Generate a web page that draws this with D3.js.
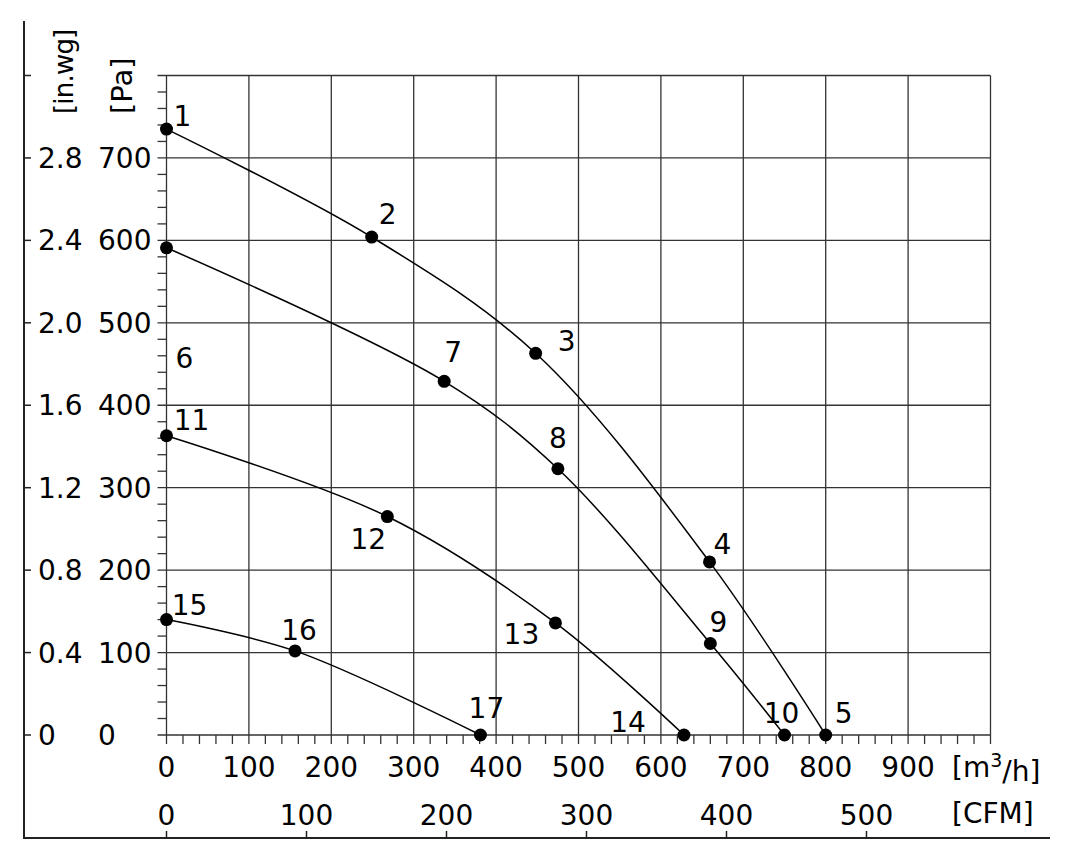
<!DOCTYPE html>
<html>
<head>
<meta charset="utf-8">
<script src="https://cdn.jsdelivr.net/npm/d3@7"></script>
<style>
  body { margin: 0; background: #fff; }
  text { font-family: "DejaVu Sans", Verdana, sans-serif; fill: #000; }
</style>
</head>
<body>
<div id="graph"></div>
<script>
var svgWidth = 1072;
var svgHeight = 859;

// fan curves, airflow in m3/h and static pressure in Pa
var curveA = [[0, 735], [249, 604], [448, 463], [659, 210], [800, 0]];
var curveB = [[0, 591], [337, 429], [475, 323], [660, 111], [750, 0]];
var curveC = [[0, 363], [268, 265], [472, 136], [628, 0]];
var curveD = [[0, 140], [156, 102], [381, 0]];
var curves = [curveA, curveB, curveC, curveD];

// point numbers, in the order of the curves above
var pointNames = [["1", "2", "3", "4", "5"], ["6", "7", "8", "9", "10"], ["11", "12", "13", "14"], ["15", "16", "17"]];

// label offsets from each point, px
var labelOffsets = [
  [[16, -13], [16, -23], [31, -12], [13, -18], [18, -22]],
  [[18, 110], [9, -29], [0, -31], [8, -22], [-3, -22]],
  [[25, -16], [-19, 22], [-34, 11], [-56, -13]],
  [[23, -15], [4, -21], [6, -27]]
];

var flowTicks = [0, 100, 200, 300, 400, 500, 600, 700, 800, 900];
var paTicks = [0, 100, 200, 300, 400, 500, 600, 700];
var inwgTicks = [0, 0.4, 0.8, 1.2, 1.6, 2.0, 2.4, 2.8];
var inwgTickLabels = ["0", "0.4", "0.8", "1.2", "1.6", "2.0", "2.4", "2.8"];
var cfmTicks = [0, 100, 200, 300, 400, 500];

var svg = d3.select("#graph")
  .append("svg")
  .attr("width", svgWidth)
  .attr("height", svgHeight);

var x = d3.scaleLinear().domain([0, 1000]).range([166.5, 990.5]);
var y = d3.scaleLinear().domain([0, 800]).range([735, 75.5]);

var FS = 28;

// outer frame with the in.wg and CFM scales
svg.append("line")
  .attr("x1", 24).attr("x2", 24).attr("y1", 21).attr("y2", 839)
  .attr("stroke", "#222").attr("stroke-width", 2);
svg.append("line")
  .attr("x1", 23).attr("x2", 1050).attr("y1", 838).attr("y2", 838)
  .attr("stroke", "#222").attr("stroke-width", 2);

var inwgTickVals = inwgTicks.concat([3.2]);
svg.selectAll(".inwg-tick")
  .data(inwgTickVals)
  .enter().append("line")
  .attr("x1", 24).attr("x2", 31)
  .attr("y1", d => y(d * 250)).attr("y2", d => y(d * 250))
  .attr("stroke", "#222").attr("stroke-width", 1.5);

svg.selectAll(".inwg-label")
  .data(inwgTicks)
  .enter().append("text")
  .attr("x", 38)
  .attr("y", d => y(d * 250))
  .attr("dy", "0.36em")
  .attr("font-size", FS)
  .text((d, i) => inwgTickLabels[i]);

svg.selectAll(".pa-label")
  .data(paTicks)
  .enter().append("text")
  .attr("x", 98)
  .attr("y", d => y(d))
  .attr("dy", "0.36em")
  .attr("font-size", FS)
  .text(d => d);

svg.append("text")
  .attr("transform", "translate(64,114) rotate(-90)")
  .attr("dy", "0.36em")
  .attr("font-size", 26)
  .attr("letter-spacing", -0.8)
  .text("[in.wg]");
svg.append("text")
  .attr("transform", "translate(122,114) rotate(-90)")
  .attr("dy", "0.36em")
  .attr("font-size", 29)
  .text("[Pa]");

svg.selectAll(".cfm-tick")
  .data(cfmTicks)
  .enter().append("line")
  .attr("x1", d => x(d * 1.699)).attr("x2", d => x(d * 1.699))
  .attr("y1", 831).attr("y2", 838)
  .attr("stroke", "#222").attr("stroke-width", 1.5);

svg.selectAll(".cfm-label")
  .data(cfmTicks)
  .enter().append("text")
  .attr("x", d => x(d * 1.699))
  .attr("y", 815)
  .attr("dy", "0.36em")
  .attr("text-anchor", "middle")
  .attr("font-size", FS)
  .text(d => d);

// grid
var grid = svg.append("g");
grid.selectAll(".vgrid")
  .data(d3.range(0, 1001, 100))
  .enter().append("line")
  .attr("x1", d => x(d)).attr("x2", d => x(d))
  .attr("y1", y(800)).attr("y2", y(0) + 9)
  .attr("stroke", "#333").attr("stroke-width", 1.3);
grid.selectAll(".hgrid")
  .data(d3.range(0, 801, 100))
  .enter().append("line")
  .attr("x1", x(0) - 9).attr("x2", x(1000))
  .attr("y1", d => y(d)).attr("y2", d => y(d))
  .attr("stroke", "#333").attr("stroke-width", 1.3);

// minor ticks
grid.selectAll(".xminor")
  .data(d3.range(20, 1000, 20).filter(d => d % 100 !== 0))
  .enter().append("line")
  .attr("x1", d => x(d)).attr("x2", d => x(d))
  .attr("y1", y(0)).attr("y2", y(0) + 9)
  .attr("stroke", "#333").attr("stroke-width", 1.3);
grid.selectAll(".yminor")
  .data(d3.range(20, 800, 20).filter(d => d % 100 !== 0))
  .enter().append("line")
  .attr("x1", x(0) - 9).attr("x2", x(0))
  .attr("y1", d => y(d)).attr("y2", d => y(d))
  .attr("stroke", "#333").attr("stroke-width", 1.3);

svg.selectAll(".flow-label")
  .data(flowTicks)
  .enter().append("text")
  .attr("x", d => x(d))
  .attr("y", 767)
  .attr("dy", "0.36em")
  .attr("text-anchor", "middle")
  .attr("font-size", FS)
  .text(d => d);

var unit = svg.append("text")
  .attr("x", 952)
  .attr("y", 767)
  .attr("dy", "0.36em")
  .attr("font-size", FS);
unit.append("tspan").text("[m");
unit.append("tspan").attr("font-size", 19).attr("dy", "-0.55em").text("3");
unit.append("tspan").attr("dy", "0.5em").text("/h]");

svg.append("text")
  .attr("x", 952)
  .attr("y", 813)
  .attr("dy", "0.36em")
  .attr("font-size", FS)
  .text("[CFM]");

// curves
var line = d3.line()
  .x(d => x(d[0]))
  .y(d => y(d[1]))
  .curve(d3.curveCatmullRom.alpha(0.5));

svg.selectAll(".curve")
  .data(curves)
  .enter().append("path")
  .attr("d", line)
  .attr("fill", "none")
  .attr("stroke", "#000")
  .attr("stroke-width", 1.5);

curves.forEach((c, ci) => {
  svg.selectAll(".pt" + ci)
    .data(c)
    .enter().append("circle")
    .attr("cx", d => x(d[0]))
    .attr("cy", d => y(d[1]))
    .attr("r", 6.5)
    .attr("fill", "#000");

  svg.selectAll(".lbl" + ci)
    .data(c)
    .enter().append("text")
    .attr("x", (d, i) => x(d[0]) + labelOffsets[ci][i][0])
    .attr("y", (d, i) => y(d[1]) + labelOffsets[ci][i][1])
    .attr("dy", "0.36em")
    .attr("text-anchor", "middle")
    .attr("font-size", FS)
    .text((d, i) => pointNames[ci][i]);
});
</script>
</body>
</html>
